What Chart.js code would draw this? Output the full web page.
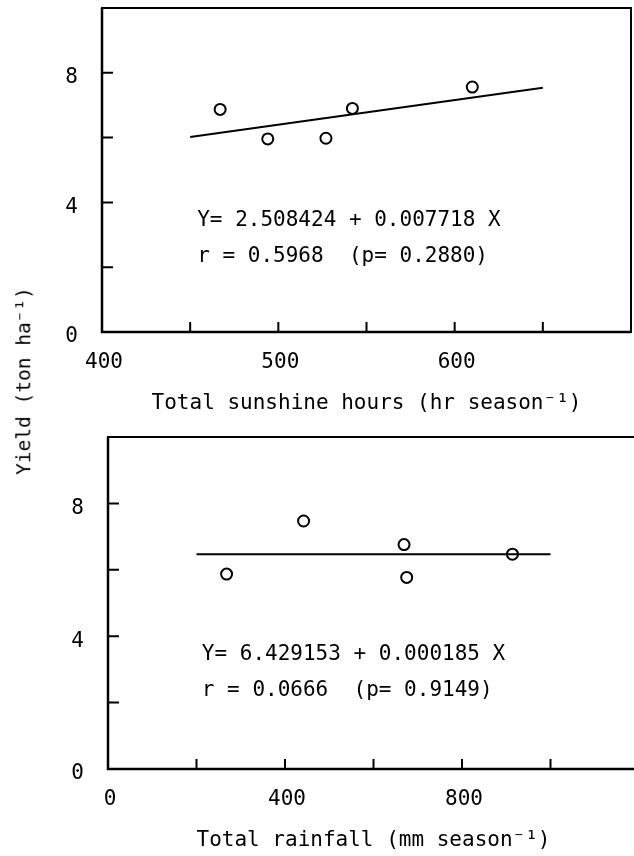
<!DOCTYPE html>
<html>
<head>
<meta charset="utf-8">
<script src="https://cdn.jsdelivr.net/npm/chart.js@4.4.0/dist/chart.umd.min.js"></script>
<style>
  html, body { margin: 0; padding: 0; background: #fff; overflow: hidden; }
  #wrap { position: relative; width: 634px; height: 856px; overflow: hidden; }
  #sunChart { position: absolute; left: 0; top: 0; }
  #rainChart { position: absolute; left: 0; top: 430px; }
  #yTitle {
    position: absolute; left: 24px; top: 381px;
    transform: translate(-50%, -50%) rotate(-90deg);
    font: 19.5px "DejaVu Sans Mono"; line-height: 1; white-space: nowrap; color: #000;
  }
</style>
</head>
<body>
<div id="wrap">
  <canvas id="sunChart" width="634" height="430"></canvas>
  <canvas id="rainChart" width="645" height="426"></canvas>
  <div id="yTitle">Yield (ton ha⁻¹)</div>
</div>
<script>
// sunshine panel (top)
const sunX = [467, 494, 527, 542, 610];
const sunY = [6.87, 5.96, 5.98, 6.90, 7.56];
const sunFitX = [450, 650];
const sunFitY = [6.02, 7.54];
const sunTicks = [400, 450, 500, 550, 600, 650];
const sunLabels = [400, 500, 600];
const sunNote = ['Y= 2.508424 + 0.007718 X', 'r = 0.5968  (p= 0.2880)'];

// rainfall panel (bottom)
const rainX = [268, 442, 669, 675, 914];
const rainY = [5.87, 7.47, 6.76, 5.77, 6.47];
const rainFitX = [200, 1000];
const rainFitY = [6.47, 6.47];
const rainTicks = [0, 200, 400, 600, 800, 1000];
const rainLabels = [0, 400, 800];
const rainNote = ['Y= 6.429153 + 0.000185 X', 'r = 0.0666  (p= 0.9149)'];

// shared yield axis
const yTicks = [0, 2, 4, 6, 8];
const yLabels = [0, 4, 8];

Chart.defaults.font.family = '"DejaVu Sans Mono", monospace';
Chart.defaults.font.size = 21;
Chart.defaults.color = '#000';

// box, inward tick marks and the regression text
const framePlugin = {
    id: 'frame',
    afterDraw(chart, args, opts) {
        const ctx = chart.ctx;
        const a = chart.chartArea;
        const x = chart.scales.x;
        const y = chart.scales.y;
        ctx.save();
        ctx.strokeStyle = '#000';
        ctx.lineWidth = 2;
        ctx.strokeRect(a.left, a.top, a.right - a.left, a.bottom - a.top);
        ctx.lineWidth = 2.5;
        ctx.beginPath();
        ctx.moveTo(a.left, a.top);
        ctx.lineTo(a.left, a.bottom);
        ctx.lineTo(a.right, a.bottom);
        ctx.stroke();

        ctx.lineWidth = 2;
        ctx.beginPath();
        opts.xTicks.forEach(function (v) {
            if (v <= x.min) return;
            const px = x.getPixelForValue(v);
            ctx.moveTo(px, a.bottom);
            ctx.lineTo(px, a.bottom - 10);
        });
        opts.yTicks.forEach(function (v) {
            if (v <= y.min) return;
            const py = y.getPixelForValue(v);
            ctx.moveTo(a.left, py);
            ctx.lineTo(a.left + 11, py);
        });
        ctx.stroke();

        ctx.fillStyle = '#000';
        ctx.font = '21px "DejaVu Sans Mono"';
        ctx.textAlign = 'left';
        ctx.textBaseline = 'alphabetic';
        const tx = x.getPixelForValue(opts.noteAt[0]);
        const ty = y.getPixelForValue(opts.noteAt[1]);
        opts.note.forEach(function (line, i) {
            ctx.fillText(line, tx, ty + i * 36);
        });
        ctx.restore();
    }
};

function makePanel(canvasId, p) {
    const pts = p.xs.map(function (v, i) { return { x: v, y: p.ys[i] }; });
    const fit = p.fitX.map(function (v, i) { return { x: v, y: p.fitY[i] }; });
    return new Chart(document.getElementById(canvasId).getContext('2d'), {
        type: 'scatter',
        data: {
            datasets: [
                {
                    type: 'line',
                    data: fit,
                    borderColor: '#000',
                    borderWidth: 2,
                    pointRadius: 0,
                    fill: false
                },
                {
                    data: pts,
                    pointStyle: 'circle',
                    pointRadius: 5.5,
                    borderWidth: 2,
                    borderColor: '#000',
                    backgroundColor: 'rgba(0,0,0,0)'
                }
            ]
        },
        options: {
            responsive: false,
            animation: false,
            events: [],
            layout: { padding: p.padding, autoPadding: false },
            scales: {
                x: {
                    type: 'linear',
                    min: p.xMin,
                    max: p.xMax,
                    grid: { display: false, drawTicks: false },
                    border: { display: false },
                    afterBuildTicks: function (scale) {
                        scale.ticks = p.xTicks.map(function (v) { return { value: v }; });
                    },
                    afterFit: function (scale) {
                        scale.height = p.xHeight;
                        scale.paddingLeft = 0;
                        scale.paddingRight = 0;
                    },
                    ticks: {
                        autoSkip: false,
                        maxRotation: 0,
                        padding: 18,
                        labelOffset: 2,
                        callback: function (v) { return p.xLabels.includes(v) ? String(v) : ''; }
                    },
                    title: {
                        display: true,
                        text: p.xTitle,
                        color: '#000',
                        font: { size: 21 },
                        padding: { top: 0, bottom: p.titlePad }
                    }
                },
                y: {
                    type: 'linear',
                    min: 0,
                    max: 10,
                    grid: { display: false, drawTicks: false },
                    border: { display: false },
                    afterBuildTicks: function (scale) {
                        scale.ticks = yTicks.map(function (v) { return { value: v }; });
                    },
                    afterFit: function (scale) {
                        scale.width = p.yWidth;
                        scale.paddingTop = 0;
                        scale.paddingBottom = 0;
                    },
                    ticks: {
                        autoSkip: false,
                        padding: 24,
                        labelOffset: 5,
                        callback: function (v) { return yLabels.includes(v) ? String(v) : ''; }
                    }
                }
            },
            plugins: {
                legend: { display: false },
                tooltip: { enabled: false },
                frame: { xTicks: p.xTicks, yTicks: yTicks, note: p.note, noteAt: p.noteAt }
            }
        },
        plugins: [framePlugin]
    });
}

var sunChart = makePanel('sunChart', {
    xs: sunX, ys: sunY, fitX: sunFitX, fitY: sunFitY,
    xMin: 400, xMax: 700, xTicks: sunTicks, xLabels: sunLabels,
    xTitle: 'Total sunshine hours (hr season⁻¹)',
    note: sunNote, noteAt: [454, 3.28],
    padding: { left: 0, top: 8, right: 3, bottom: 0 },
    yWidth: 102, xHeight: 98, titlePad: 14
});

var rainChart = makePanel('rainChart', {
    xs: rainX, ys: rainY, fitX: rainFitX, fitY: rainFitY,
    xMin: 0, xMax: 1200, xTicks: rainTicks, xLabels: rainLabels,
    xTitle: 'Total rainfall (mm season⁻¹)',
    note: rainNote, noteAt: [212, 3.28],
    padding: { left: 0, top: 7, right: 6, bottom: 0 },
    yWidth: 108, xHeight: 87, titlePad: 3
});
</script>
</body>
</html>
